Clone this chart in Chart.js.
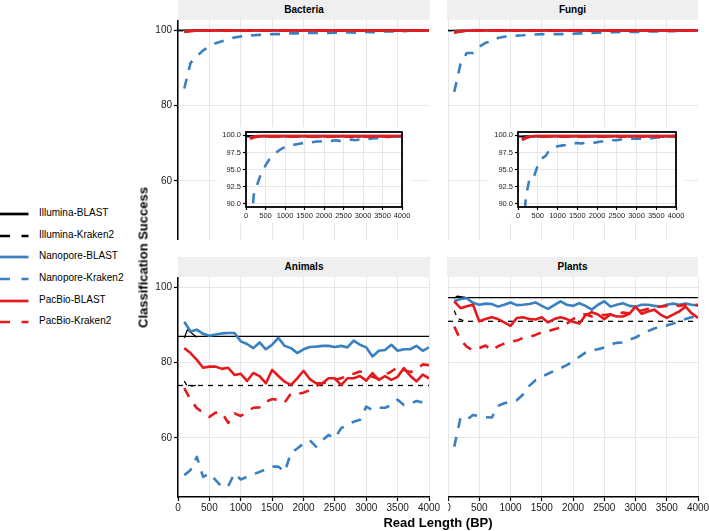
<!DOCTYPE html>
<html>
<head>
<meta charset="utf-8">
<script src="https://cdn.jsdelivr.net/npm/chart.js@4.4.0/dist/chart.umd.min.js"></script>
<style>
	body { margin: 0; width: 709px; height: 531px; background: #fff; position: relative; overflow: hidden; font-family: "Liberation Sans", Arial, sans-serif; color: #000; }
	canvas { position: absolute; }
	canvas.inset { background: #fff; }
	.strip { position: absolute; height: 20px; line-height: 20px; background: #EFEFEF; font-weight: bold; font-size: 10px; text-align: center; }
	.title { position: absolute; font-weight: bold; font-size: 13px; text-align: center; white-space: nowrap; }
	.leg { position: absolute; left: 0; height: 16px; }
	.leg span { position: absolute; left: 39px; top: 1px; font-size: 10px; white-space: nowrap; }
	.leg svg { position: absolute; left: 0; top: 0; }
</style>
</head>
<body>

<div class="strip" style="left:178px;top:0;width:252px;">Bacteria</div>
<div class="strip" style="left:447px;top:0;width:251px;">Fungi</div>
<div class="strip" style="left:178px;top:257px;width:252px;">Animals</div>
<div class="strip" style="left:447px;top:257px;width:251px;">Plants</div>

<canvas id="bacteriaChart" width="291" height="220" style="left:138px;top:20px;"></canvas>
<canvas id="fungiChart" width="250" height="220" style="left:448px;top:20px;"></canvas>
<canvas id="animalsChart" width="303" height="240" style="left:138px;top:277px;"></canvas>
<canvas id="plantsChart" width="261" height="240" style="left:448px;top:277px;"></canvas>
<canvas id="bacteriaInset" class="inset" width="194" height="96" style="left:217px;top:127px;"></canvas>
<canvas id="fungiInset" class="inset" width="196" height="96" style="left:489px;top:127px;"></canvas>

<div class="title" style="left:43px;top:250px;width:200px;transform:rotate(-90deg);">Classification Success</div>
<div class="title" style="left:338px;top:515px;width:200px;">Read Length (BP)</div>

<div id="legend"></div>

<script>
// read lengths (bp)
const readLength = [100, 200, 300, 400, 500, 600, 700, 800, 900, 1000,
	1100, 1200, 1300, 1400, 1500, 1600, 1700, 1800, 1900, 2000,
	2100, 2200, 2300, 2400, 2500, 2600, 2700, 2800, 2900, 3000,
	3100, 3200, 3300, 3400, 3500, 3600, 3700, 3800, 3900, 4000];
const illuminaLength = [100, 150, 300];
const refRange = [0, 4000];

const xTicks = [0, 500, 1000, 1500, 2000, 2500, 3000, 3500, 4000];
const yTicks = [60, 80, 100];
const insetYTicks = [90, 92.5, 95, 97.5, 100];

const legendLabels = ['Illumina-BLAST', 'Illumina-Kraken2', 'Nanopore-BLAST', 'Nanopore-Kraken2', 'PacBio-BLAST', 'PacBio-Kraken2'];

// Bacteria
const bacteriaIlluminaBlast = [99.9, 99.9, 99.9];
const bacteriaIlluminaBlastRef = 99.95;
const bacteriaIlluminaKraken = [99.8, 99.8, 99.8];
const bacteriaIlluminaKrakenRef = 99.8;
const bacteriaNanoporeBlast = [99.7, 99.8, 99.8, 99.9, 99.9, 99.9, 99.9, 99.9, 99.9, 99.9,
	99.9, 99.9, 99.9, 99.9, 99.9, 99.9, 99.9, 99.9, 99.9, 99.9,
	99.9, 99.9, 99.9, 99.9, 99.9, 99.9, 99.9, 99.9, 99.9, 99.9,
	99.9, 99.9, 99.9, 99.9, 99.9, 99.9, 99.9, 99.9, 99.9, 99.9];
const bacteriaNanoporeKraken = [84.5, 91.3, 93.0, 94.6, 95.6, 96.5, 97.0, 97.6, 98.0, 98.3,
	98.5, 98.6, 98.7, 98.8, 98.9, 98.9, 99.0, 99.1, 99.1, 99.2,
	99.2, 99.2, 99.3, 99.2, 99.3, 99.3, 99.4, 99.3, 99.4, 99.5,
	99.4, 99.5, 99.6, 99.6, 99.7, 99.7, 99.8, 99.8, 99.9, 99.9];
const bacteriaPacbioBlast = [99.6, 99.8, 99.9, 99.9, 99.9, 99.9, 99.9, 99.9, 99.9, 99.9,
	99.9, 99.9, 99.9, 99.9, 99.9, 99.9, 99.9, 99.9, 99.9, 99.9,
	99.9, 99.9, 99.9, 99.9, 99.9, 99.9, 99.9, 99.9, 99.9, 99.9,
	99.9, 99.9, 99.9, 99.9, 99.9, 99.9, 99.9, 99.9, 99.9, 99.9];
const bacteriaPacbioKraken = [99.5, 99.7, 99.8, 99.8, 99.8, 99.8, 99.8, 99.8, 99.8, 99.8,
	99.8, 99.8, 99.8, 99.8, 99.8, 99.8, 99.8, 99.8, 99.8, 99.8,
	99.8, 99.8, 99.8, 99.8, 99.8, 99.8, 99.8, 99.8, 99.8, 99.8,
	99.8, 99.8, 99.8, 99.8, 99.8, 99.8, 99.8, 99.8, 99.8, 99.8];

// Fungi
const fungiIlluminaBlast = [99.8, 99.9, 99.9];
const fungiIlluminaBlastRef = 99.9;
const fungiIlluminaKraken = [99.7, 99.8, 99.8];
const fungiIlluminaKrakenRef = 99.8;
const fungiNanoporeBlast = [99.5, 99.7, 99.8, 99.8, 99.9, 99.9, 99.9, 99.9, 99.9, 99.9,
	99.9, 99.9, 99.9, 99.9, 99.9, 99.9, 99.9, 99.9, 99.9, 99.9,
	99.9, 99.9, 99.9, 99.9, 99.9, 99.9, 99.9, 99.9, 99.9, 99.9,
	99.9, 99.9, 99.9, 99.9, 99.9, 99.9, 99.9, 99.9, 99.9, 99.9];
const fungiNanoporeKraken = [83.6, 91.0, 93.9, 93.9, 95.6, 96.6, 97.0, 97.9, 98.2, 98.4,
	98.5, 98.6, 98.8, 98.8, 98.9, 98.8, 98.9, 98.9, 98.9, 99.0,
	99.1, 99.1, 99.2, 99.3, 99.3, 99.4, 99.4, 99.5, 99.5, 99.5,
	99.5, 99.6, 99.6, 99.6, 99.7, 99.7, 99.8, 99.8, 99.9, 99.9];
const fungiPacbioBlast = [99.4, 99.7, 99.8, 99.9, 99.9, 99.9, 99.9, 99.9, 99.9, 99.9,
	99.9, 99.9, 99.9, 99.9, 99.9, 99.9, 99.9, 99.9, 99.9, 99.9,
	99.9, 99.9, 99.9, 99.9, 99.9, 99.9, 99.9, 99.9, 99.9, 99.9,
	99.9, 99.9, 99.9, 99.9, 99.9, 99.9, 99.9, 99.9, 99.9, 99.9];
const fungiPacbioKraken = [99.3, 99.6, 99.8, 99.8, 99.8, 99.8, 99.8, 99.8, 99.8, 99.8,
	99.8, 99.8, 99.8, 99.8, 99.8, 99.8, 99.8, 99.8, 99.8, 99.8,
	99.8, 99.8, 99.8, 99.8, 99.8, 99.8, 99.8, 99.8, 99.8, 99.8,
	99.8, 99.8, 99.8, 99.8, 99.8, 99.8, 99.8, 99.8, 99.8, 99.8];

// Animals
const animalsIlluminaBlast = [86.5, 88.7, 86.7];
const animalsIlluminaBlastRef = 86.9;
const animalsIlluminaKraken = [75.1, 73.6, 74.0];
const animalsIlluminaKrakenRef = 73.9;
const animalsNanoporeBlast = [90.8, 88.2, 88.7, 87.6, 87.1, 87.4, 87.7, 87.8, 87.8, 85.6,
	84.9, 83.8, 85.3, 83.5, 84.7, 86.5, 84.4, 83.8, 82.5, 83.5,
	84.1, 84.2, 84.4, 84.4, 84.1, 84.4, 84.0, 85.8, 84.7, 84.0,
	81.6, 83.1, 83.3, 84.7, 83.1, 83.5, 83.5, 84.4, 83.1, 84.0];
const animalsNanoporeKraken = [50.1, 51.5, 55.0, 49.7, 50.6, 48.8, 47.0, 47.2, 50.6, 49.0,
	49.7, 50.4, 51.0, 51.7, 52.4, 52.4, 51.0, 56.0, 57.2, 58.5,
	59.4, 57.7, 59.4, 60.8, 59.9, 62.6, 63.5, 64.3, 64.8, 68.3,
	67.4, 68.0, 68.0, 68.7, 70.1, 68.7, 69.0, 69.8, 69.4, 70.8];
const animalsPacbioBlast = [83.8, 82.5, 80.7, 78.6, 78.9, 78.9, 78.3, 78.6, 76.7, 77.0,
	75.1, 77.2, 76.4, 74.5, 78.0, 76.4, 74.9, 74.0, 75.8, 77.8,
	75.6, 74.5, 74.5, 75.8, 75.8, 74.0, 75.8, 75.8, 76.4, 75.2,
	77.2, 75.4, 76.4, 75.4, 76.2, 78.5, 76.5, 75.0, 76.8, 75.8];
const animalsPacbioKraken = [73.2, 70.1, 67.9, 66.7, 65.6, 66.7, 66.7, 64.0, 66.5, 65.8,
	67.0, 68.0, 68.1, 69.6, 70.3, 70.1, 69.4, 71.8, 71.7, 72.0,
	72.7, 73.8, 74.5, 74.9, 75.4, 75.8, 76.7, 77.0, 77.6, 77.2,
	76.2, 75.6, 76.7, 77.6, 78.8, 78.0, 77.5, 78.0, 79.5, 79.3];

// Plants
const plantsIlluminaBlast = [97.0, 97.6, 97.2];
const plantsIlluminaBlastRef = 97.2;
const plantsIlluminaKraken = [93.8, 91.7, 90.8];
const plantsIlluminaKrakenRef = 90.9;
const plantsNanoporeBlast = [96.2, 96.8, 97.0, 95.8, 95.3, 95.6, 95.5, 94.8, 95.3, 95.9,
	95.2, 95.3, 95.5, 95.9, 95.0, 94.2, 95.2, 96.2, 95.3, 95.0,
	95.7, 95.0, 94.0, 95.3, 96.2, 94.8, 95.3, 95.7, 95.0, 94.8,
	95.3, 95.3, 95.0, 94.8, 95.3, 95.6, 95.3, 95.6, 95.3, 95.1];
const plantsNanoporeKraken = [57.7, 65.3, 64.8, 66.1, 65.8, 65.5, 65.4, 68.5, 69.2, 69.6,
	70.0, 71.5, 73.8, 75.3, 76.2, 77.0, 77.8, 78.5, 79.3, 80.3,
	81.5, 82.6, 83.2, 83.5, 84.0, 84.8, 85.2, 85.3, 86.0, 86.6,
	87.5, 88.3, 89.0, 89.5, 89.8, 90.3, 90.9, 91.5, 92.0, 92.0];
const plantsPacbioBlast = [96.2, 94.4, 94.9, 95.3, 90.9, 91.5, 92.0, 91.5, 90.6, 89.7,
	91.8, 92.0, 91.5, 91.4, 92.0, 90.6, 91.5, 92.0, 91.5, 90.8,
	90.3, 92.5, 93.3, 92.7, 91.5, 92.7, 92.2, 92.2, 92.9, 94.8,
	92.9, 93.5, 94.0, 92.7, 91.8, 92.7, 93.5, 94.8, 93.0, 91.8];
const plantsPacbioKraken = [89.5, 86.0, 84.2, 83.2, 83.8, 84.5, 83.2, 84.3, 85.0, 85.5,
	85.8, 86.5, 86.8, 87.3, 88.0, 88.3, 88.8, 89.2, 90.3, 91.5,
	92.5, 92.8, 92.2, 92.5, 92.6, 92.8, 93.0, 93.2, 93.0, 93.4,
	93.8, 94.2, 94.6, 94.8, 95.0, 95.2, 95.0, 95.3, 95.5, 95.2];

const RED = '#E41A1C';
const BLUE = '#3A80C0';
const BLACK = '#000000';
const GRID = '#E6E6E6';
const TEXT = '#1a1a1a';
const seriesColors = [BLACK, BLACK, BLUE, BLUE, RED, RED];
const seriesDashed = [false, true, false, true, false, true];

Chart.defaults.font.family = '"Liberation Sans", Arial, sans-serif';

// black frame round the inset panels
const panelBox = {
	id: 'panelBox',
	afterDatasetsDraw(chart, args, opts) {
		if (!opts.show) return;
		let a = chart.chartArea;
		let ctx = chart.ctx;
		ctx.save();
		ctx.strokeStyle = '#000';
		ctx.lineWidth = 1.8;
		ctx.strokeRect(a.left, a.top, a.right - a.left, a.bottom - a.top);
		ctx.restore();
	}
};

function lineSet(xs, ys, color, dash, width) {
	return {
		data: xs.map((x, i) => ({ x: x, y: ys[i] })),
		borderColor: color,
		borderWidth: width,
		borderDash: dash,
		pointRadius: 0,
		fill: false,
		tension: 0,
		borderCapStyle: 'butt',
		borderJoinStyle: 'round'
	};
}

function facetDatasets(f) {
	// first dataset is drawn on top
	return [
		lineSet(readLength, f.pacbioKraken, RED, [10, 9], 2.6),
		lineSet(readLength, f.pacbioBlast, RED, [], 2.6),
		lineSet(readLength, f.nanoporeKraken, BLUE, [10, 9], 2.6),
		lineSet(readLength, f.nanoporeBlast, BLUE, [], 2.6),
		lineSet(illuminaLength, f.illuminaKraken, BLACK, [5, 5], 1.3),
		lineSet(refRange, [f.illuminaKrakenRef, f.illuminaKrakenRef], BLACK, [5, 5], 1.3),
		lineSet(illuminaLength, f.illuminaBlast, BLACK, [], 1.3),
		lineSet(refRange, [f.illuminaBlastRef, f.illuminaBlastRef], BLACK, [], 1.3)
	];
}

function makePanel(id, f, p) {

	let ctx = document.getElementById(id).getContext('2d');
	let fontSize = p.inset ? 7.5 : 10;
	let yList = p.inset ? insetYTicks : yTicks;

	return new Chart(ctx, {
		type: 'line',
		data: { datasets: facetDatasets(f) },
		plugins: [panelBox],
		options: {
			responsive: false,
			animation: false,
			layout: { padding: p.pad },
			plugins: {
				legend: { display: false },
				tooltip: { enabled: false },
				panelBox: { show: p.inset }
			},
			scales: {
				x: {
					type: 'linear',
					min: 0,
					max: 4000,
					afterBuildTicks: s => { s.ticks = xTicks.map(v => ({ value: v })); },
					afterFit: s => { s.height = p.xHeight; s.paddingLeft = 0; s.paddingRight = 0; },
					ticks: {
						display: p.showX,
						autoSkip: false,
						maxRotation: 0,
						minRotation: 0,
						padding: 1,
						color: TEXT,
						font: { size: fontSize },
						callback: v => String(v)
					},
					grid: {
						color: GRID,
						lineWidth: 1,
						drawTicks: p.showX,
						tickLength: p.inset ? 3 : 4,
						tickColor: '#000',
						tickWidth: 1.2
					},
					border: { display: p.showX && !p.inset, color: '#000', width: 1.5 }
				},
				y: {
					type: 'linear',
					min: p.yMin,
					max: p.yMax,
					afterBuildTicks: s => { s.ticks = yList.map(v => ({ value: v })); },
					afterFit: s => { s.width = p.yWidth; s.paddingTop = 0; s.paddingBottom = 0; },
					ticks: {
						display: p.showY,
						padding: 2,
						color: TEXT,
						font: { size: fontSize },
						callback: v => p.inset ? v.toFixed(1) : String(v)
					},
					grid: {
						color: GRID,
						lineWidth: 1,
						drawTicks: p.showY,
						tickLength: p.inset ? 3 : 4,
						tickColor: '#000',
						tickWidth: 1.2
					},
					border: { display: p.showY && !p.inset, color: '#000', width: 1.5 }
				}
			}
		}
	});

}

function addLegend() {
	let box = document.getElementById('legend');
	legendLabels.forEach((label, i) => {
		let row = document.createElement('div');
		row.className = 'leg';
		row.style.top = (206 + i * 21.65) + 'px';
		let dash = seriesDashed[i] ? ' stroke-dasharray="10,11.5"' : '';
		row.innerHTML = '<svg width="30" height="16"><line x1="0" y1="8" x2="28.5" y2="8" stroke="' +
			seriesColors[i] + '" stroke-width="2.7"' + dash + '/></svg><span>' + label + '</span>';
		box.appendChild(row);
	});
}

function addCharts() {

	let bacteria = {
		illuminaBlast: bacteriaIlluminaBlast, illuminaBlastRef: bacteriaIlluminaBlastRef,
		illuminaKraken: bacteriaIlluminaKraken, illuminaKrakenRef: bacteriaIlluminaKrakenRef,
		nanoporeBlast: bacteriaNanoporeBlast, nanoporeKraken: bacteriaNanoporeKraken,
		pacbioBlast: bacteriaPacbioBlast, pacbioKraken: bacteriaPacbioKraken
	};
	let fungi = {
		illuminaBlast: fungiIlluminaBlast, illuminaBlastRef: fungiIlluminaBlastRef,
		illuminaKraken: fungiIlluminaKraken, illuminaKrakenRef: fungiIlluminaKrakenRef,
		nanoporeBlast: fungiNanoporeBlast, nanoporeKraken: fungiNanoporeKraken,
		pacbioBlast: fungiPacbioBlast, pacbioKraken: fungiPacbioKraken
	};
	let animals = {
		illuminaBlast: animalsIlluminaBlast, illuminaBlastRef: animalsIlluminaBlastRef,
		illuminaKraken: animalsIlluminaKraken, illuminaKrakenRef: animalsIlluminaKrakenRef,
		nanoporeBlast: animalsNanoporeBlast, nanoporeKraken: animalsNanoporeKraken,
		pacbioBlast: animalsPacbioBlast, pacbioKraken: animalsPacbioKraken
	};
	let plants = {
		illuminaBlast: plantsIlluminaBlast, illuminaBlastRef: plantsIlluminaBlastRef,
		illuminaKraken: plantsIlluminaKraken, illuminaKrakenRef: plantsIlluminaKrakenRef,
		nanoporeBlast: plantsNanoporeBlast, nanoporeKraken: plantsNanoporeKraken,
		pacbioBlast: plantsPacbioBlast, pacbioKraken: plantsPacbioKraken
	};

	let main = { yMin: 44.35, yMax: 102.65, inset: false };
	let small = { yMin: 89.5, yMax: 100.5, inset: true, showX: true, showY: true,
		yWidth: 26, xHeight: 13, pad: { left: 3, right: 9, top: 5, bottom: 3 } };

	makePanel('bacteriaChart', bacteria, Object.assign({}, main, { showX: false, showY: true, yWidth: 40, xHeight: 0, pad: { left: 0, right: 0, top: 0, bottom: 0 } }));
	makePanel('fungiChart', fungi, Object.assign({}, main, { showX: false, showY: false, yWidth: 0, xHeight: 0, pad: { left: 0, right: 0, top: 0, bottom: 0 } }));
	makePanel('animalsChart', animals, Object.assign({}, main, { showX: true, showY: true, yWidth: 40, xHeight: 20, pad: { left: 0, right: 12, top: 0, bottom: 0 } }));
	makePanel('plantsChart', plants, Object.assign({}, main, { showX: true, showY: false, yWidth: 0, xHeight: 20, pad: { left: 0, right: 11, top: 0, bottom: 0 } }));
	makePanel('bacteriaInset', bacteria, small);
	makePanel('fungiInset', fungi, small);

}

addLegend();
addCharts();
</script>
</body>
</html>
